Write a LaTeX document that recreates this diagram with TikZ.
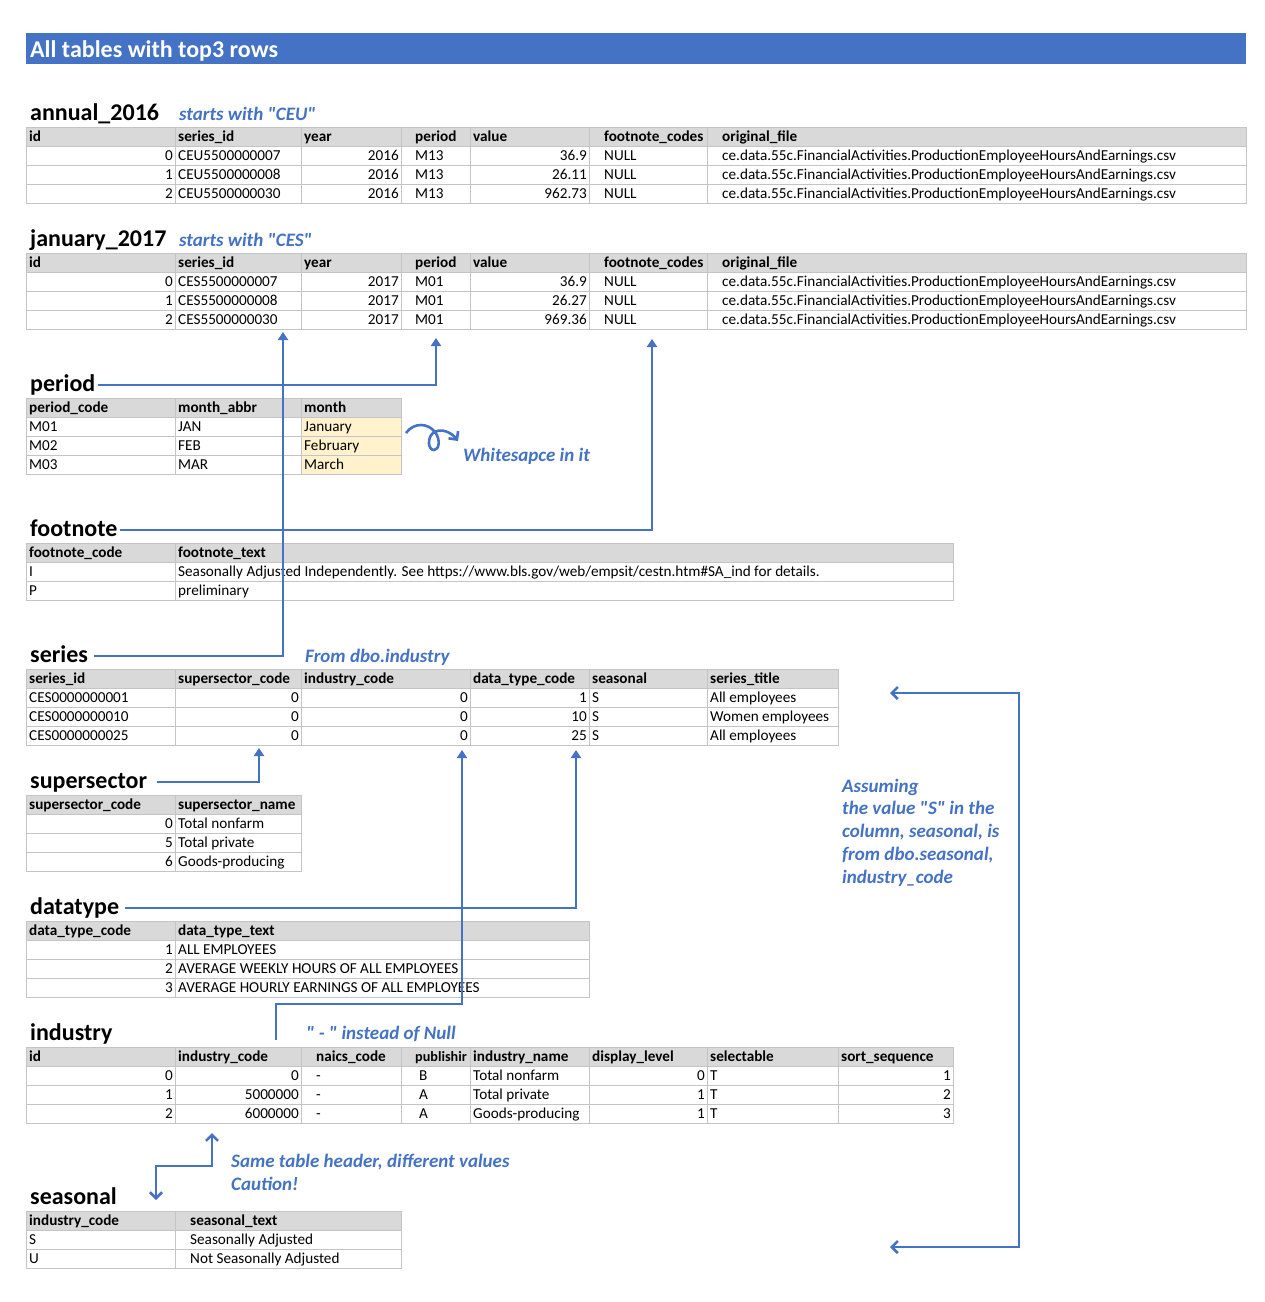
\documentclass[tikz,border=0pt]{standalone}
\usepackage{fontspec}
\setmainfont{Carlito}[Ligatures=TeXOff]
\usepackage{tikz}
\usetikzlibrary{arrows.meta}
\definecolor{xlblue}{HTML}{4472C4}
\definecolor{xlgrid}{HTML}{C4C4C4}
\definecolor{xlhead}{HTML}{D9D9D9}
\definecolor{xlyellow}{HTML}{FFF2CC}

\begin{document}
\begin{tikzpicture}[x=1pt, y=-1pt, every node/.style={inner sep=0pt},
  cell/.style={font=\fontsize{15.2}{17}\selectfont, text height=13pt, text depth=3pt},
  hcell/.style={cell, font=\fontsize{15.2}{17}\selectfont\bfseries},
  ttl/.style={font=\fontsize{24}{28}\selectfont\bfseries, text height=17pt, text depth=5pt, inner xsep=2pt},
  note/.style={font=\fontsize{19}{23}\selectfont\bfseries\itshape, text=xlblue},
  gridline/.style={draw=xlgrid, line width=0.9pt},
  fk/.style={draw=xlblue, line width=2.6pt},
  up/.style={fk, -{Triangle[length=8pt,width=10pt]}},
  barbs/.style={fk, {Straight Barb[length=6pt,width=12pt]}-{Straight Barb[length=6pt,width=12pt]}}]
  \useasboundingbox (0,0) rectangle (1265,1302);
  \fill[white] (0,0) rectangle (1265,1302);

  % title bar
  \fill[xlblue] (26,33) rectangle (1246,64);
  \node[anchor=base west, text=white, font=\fontsize{24}{28}\selectfont\bfseries] (title) at (30,57) {All tables with top3 rows};

  % annual_2016
  \node[ttl, anchor=base west] (annual) at (28,120) {annual\_2016};
  \node[note, anchor=base west] (ceu) at (179,120) {starts with "CEU"};
  \fill[xlhead] (26,127) rectangle (1246,146);
  \foreach \y in {146,165,184} \draw[gridline] (26,\y) -- (1246,\y);
  \foreach \x in {175,301,401,470,589,707} \draw[gridline] (\x,127) -- (\x,203);
  \draw[gridline] (26,127) rectangle (1246,203);
  \foreach \t/\x [count=\c] in {id/29,series\_id/178,year/304,period/415,value/473,footnote\_codes/604,original\_file/722}
    \node[hcell, anchor=west] (a16-h\c) at (\x,136.5) {\t};
  \foreach \i/\s/\v [count=\r] in {0/CEU5500000007/36.9, 1/CEU5500000008/26.11, 2/CEU5500000030/962.73} {
    \node[cell, anchor=east] (a16-\r-1) at (173,136.5+19*\r) {\i};
    \node[cell, anchor=west] (a16-\r-2) at (178,136.5+19*\r) {\s};
    \node[cell, anchor=east] (a16-\r-3) at (399,136.5+19*\r) {2016};
    \node[cell, anchor=west] (a16-\r-4) at (415,136.5+19*\r) {M13};
    \node[cell, anchor=east] (a16-\r-5) at (587,136.5+19*\r) {\v};
    \node[cell, anchor=west] (a16-\r-6) at (604,136.5+19*\r) {NULL};
    \node[cell, anchor=west] (a16-\r-7) at (722,136.5+19*\r) {ce.data.55c.FinancialActivities.ProductionEmployeeHoursAndEarnings.csv};
  }

  % january_2017
  \node[ttl, anchor=base west] (january) at (28,246) {january\_2017};
  \node[note, anchor=base west] (ces) at (179,246) {starts with "CES"};
  \fill[xlhead] (26,253) rectangle (1246,272);
  \foreach \y in {272,291,310} \draw[gridline] (26,\y) -- (1246,\y);
  \foreach \x in {175,301,401,470,589,707} \draw[gridline] (\x,253) -- (\x,329);
  \draw[gridline] (26,253) rectangle (1246,329);
  \foreach \t/\x [count=\c] in {id/29,series\_id/178,year/304,period/415,value/473,footnote\_codes/604,original\_file/722}
    \node[hcell, anchor=west] (j17-h\c) at (\x,262.5) {\t};
  \foreach \i/\s/\v [count=\r] in {0/CES5500000007/36.9, 1/CES5500000008/26.27, 2/CES5500000030/969.36} {
    \node[cell, anchor=east] (j17-\r-1) at (173,262.5+19*\r) {\i};
    \node[cell, anchor=west] (j17-\r-2) at (178,262.5+19*\r) {\s};
    \node[cell, anchor=east] (j17-\r-3) at (399,262.5+19*\r) {2017};
    \node[cell, anchor=west] (j17-\r-4) at (415,262.5+19*\r) {M01};
    \node[cell, anchor=east] (j17-\r-5) at (587,262.5+19*\r) {\v};
    \node[cell, anchor=west] (j17-\r-6) at (604,262.5+19*\r) {NULL};
    \node[cell, anchor=west] (j17-\r-7) at (722,262.5+19*\r) {ce.data.55c.FinancialActivities.ProductionEmployeeHoursAndEarnings.csv};
  }

  % period
  \node[ttl, anchor=base west] (period) at (28,391) {period};
  \fill[xlhead] (26,398) rectangle (401,417);
  \fill[xlyellow] (301,417) rectangle (401,474);
  \foreach \y in {417,436,455} \draw[gridline] (26,\y) -- (401,\y);
  \foreach \x in {175,301} \draw[gridline] (\x,398) -- (\x,474);
  \draw[gridline] (26,398) rectangle (401,474);
  \foreach \t/\x [count=\c] in {period\_code/29,month\_abbr/178,month/304}
    \node[hcell, anchor=west] (per-h\c) at (\x,407.5) {\t};
  \foreach \p/\a/\m [count=\r] in {M01/JAN/January, M02/FEB/February, M03/MAR/March} {
    \node[cell, anchor=west] (per-\r-1) at (29,407.5+19*\r) {\p};
    \node[cell, anchor=west] (per-\r-2) at (178,407.5+19*\r) {\a};
    \node[cell, anchor=west] (per-\r-3) at (304,407.5+19*\r) {\m};
  }
  \node[note, anchor=base west] (wspace) at (463,461) {Whitesapce in it};
  \coordinate (ws0) at (406,433);
  \coordinate (ws1) at (458,441);
  \draw[fk, -{Straight Barb[length=6pt,width=12pt]}] (ws0) .. controls (414,422) and (428,423) .. (435,432)
    .. controls (441,440) and (439,450) .. (434,450) .. controls (428,450) and (427,438) .. (433,433)
    .. controls (441,427) and (452,433) .. (ws1);

  % footnote
  \node[ttl, anchor=base west] (footnote) at (28,536) {footnote};
  \fill[xlhead] (26,543) rectangle (953,562);
  \foreach \y in {562,581} \draw[gridline] (26,\y) -- (953,\y);
  \draw[gridline] (175,543) -- (175,600);
  \draw[gridline] (26,543) rectangle (953,600);
  \node[hcell, anchor=west] (fn-h1) at (29,552.5) {footnote\_code};
  \node[hcell, anchor=west] (fn-h2) at (178,552.5) {footnote\_text};
  \node[cell, anchor=west] (fn-1-1) at (29,571.5) {I};
  \node[cell, anchor=west] (fn-1-2) at (178,571.5) {Seasonally Adjusted Independently. See https://www.bls.gov/web/empsit/cestn.htm\#SA\_ind for details.};
  \node[cell, anchor=west] (fn-2-1) at (29,590.5) {P};
  \node[cell, anchor=west] (fn-2-2) at (178,590.5) {preliminary};

  % series
  \node[ttl, anchor=base west] (series) at (28,662) {series};
  \node[note, anchor=base west] (fromind) at (305,662) {From dbo.industry};
  \fill[xlhead] (26,669) rectangle (838,688);
  \foreach \y in {688,707,726} \draw[gridline] (26,\y) -- (838,\y);
  \foreach \x in {175,301,470,589,707} \draw[gridline] (\x,669) -- (\x,745);
  \draw[gridline] (26,669) rectangle (838,745);
  \foreach \t/\x [count=\c] in {series\_id/29,supersector\_code/178,industry\_code/304,data\_type\_code/473,seasonal/592,series\_title/710}
    \node[hcell, anchor=west] (ser-h\c) at (\x,678.5) {\t};
  \foreach \s/\d/\n [count=\r] in {CES0000000001/1/All employees, CES0000000010/10/Women employees, CES0000000025/25/All employees} {
    \node[cell, anchor=west] (ser-\r-1) at (29,678.5+19*\r) {\s};
    \node[cell, anchor=east] (ser-\r-2) at (299,678.5+19*\r) {0};
    \node[cell, anchor=east] (ser-\r-3) at (468,678.5+19*\r) {0};
    \node[cell, anchor=east] (ser-\r-4) at (587,678.5+19*\r) {\d};
    \node[cell, anchor=west] (ser-\r-5) at (592,678.5+19*\r) {S};
    \node[cell, anchor=west] (ser-\r-6) at (710,678.5+19*\r) {\n};
  }

  % supersector
  \node[ttl, anchor=base west] (supersector) at (28,788) {supersector};
  \fill[xlhead] (26,795) rectangle (301,814);
  \foreach \y in {814,833,852} \draw[gridline] (26,\y) -- (301,\y);
  \draw[gridline] (175,795) -- (175,871);
  \draw[gridline] (26,795) rectangle (301,871);
  \node[hcell, anchor=west] (ss-h1) at (29,804.5) {supersector\_code};
  \node[hcell, anchor=west] (ss-h2) at (178,804.5) {supersector\_name};
  \foreach \c/\n [count=\r] in {0/Total nonfarm, 5/Total private, 6/Goods-producing} {
    \node[cell, anchor=east] (ss-\r-1) at (173,804.5+19*\r) {\c};
    \node[cell, anchor=west] (ss-\r-2) at (178,804.5+19*\r) {\n};
  }

  % datatype
  \node[ttl, anchor=base west] (datatype) at (28,914) {datatype};
  \fill[xlhead] (26,921) rectangle (589,940);
  \foreach \y in {940,959,978} \draw[gridline] (26,\y) -- (589,\y);
  \draw[gridline] (175,921) -- (175,997);
  \draw[gridline] (26,921) rectangle (589,997);
  \node[hcell, anchor=west] (dt-h1) at (29,930.5) {data\_type\_code};
  \node[hcell, anchor=west] (dt-h2) at (178,930.5) {data\_type\_text};
  \foreach \c/\n [count=\r] in {1/ALL EMPLOYEES, 2/AVERAGE WEEKLY HOURS OF ALL EMPLOYEES, 3/AVERAGE HOURLY EARNINGS OF ALL EMPLOYEES} {
    \node[cell, anchor=east] (dt-\r-1) at (173,930.5+19*\r) {\c};
    \node[cell, anchor=west] (dt-\r-2) at (178,930.5+19*\r) {\n};
  }

  % industry
  \node[ttl, anchor=base west] (industry) at (28,1040) {industry};
  \node[note, anchor=base west] (nonull) at (306,1039) {" - " instead of Null};
  \fill[xlhead] (26,1047) rectangle (953,1066);
  \foreach \y in {1066,1085,1104} \draw[gridline] (26,\y) -- (953,\y);
  \foreach \x in {175,301,401,470,589,707,838} \draw[gridline] (\x,1047) -- (\x,1123);
  \draw[gridline] (26,1047) rectangle (953,1123);
  \foreach \t/\x [count=\c] in {id/29,industry\_code/178,naics\_code/316,industry\_name/473,display\_level/592,selectable/710,sort\_sequence/841}
    \node[hcell, anchor=west] (ind-h\c) at (\x,1056.5) {\t};
  \node[hcell, anchor=west, font=\fontsize{14.2}{17}\selectfont\bfseries] (ind-hpub) at (415,1056.5) {publishir};
  \foreach \i/\c/\p/\n/\l [count=\r] in {0/0/B/Total nonfarm/0, 1/5000000/A/Total private/1, 2/6000000/A/Goods-producing/1} {
    \node[cell, anchor=east] (ind-\r-1) at (173,1056.5+19*\r) {\i};
    \node[cell, anchor=east] (ind-\r-2) at (299,1056.5+19*\r) {\c};
    \node[cell, anchor=west] (ind-\r-3) at (316,1056.5+19*\r) {-};
    \node[cell, anchor=west] (ind-\r-4) at (419,1056.5+19*\r) {\p};
    \node[cell, anchor=west] (ind-\r-5) at (473,1056.5+19*\r) {\n};
    \node[cell, anchor=east] (ind-\r-6) at (705,1056.5+19*\r) {\l};
    \node[cell, anchor=west] (ind-\r-7) at (710,1056.5+19*\r) {T};
    \node[cell, anchor=east] (ind-\r-8) at (951,1056.5+19*\r) {\r};
  }

  % seasonal
  \node[ttl, anchor=base west] (seasonal) at (28,1204) {seasonal};
  \fill[xlhead] (26,1211) rectangle (401,1230);
  \foreach \y in {1230,1249} \draw[gridline] (26,\y) -- (401,\y);
  \draw[gridline] (175,1211) -- (175,1268);
  \draw[gridline] (26,1211) rectangle (401,1268);
  \node[hcell, anchor=west] (sea-h1) at (29,1220.5) {industry\_code};
  \node[hcell, anchor=west] (sea-h2) at (190,1220.5) {seasonal\_text};
  \node[cell, anchor=west] (sea-1-1) at (29,1239.5) {S};
  \node[cell, anchor=west] (sea-1-2) at (190,1239.5) {Seasonally Adjusted};
  \node[cell, anchor=west] (sea-2-1) at (29,1258.5) {U};
  \node[cell, anchor=west] (sea-2-2) at (190,1258.5) {Not Seasonally Adjusted};
  \node[note, anchor=base west] (caution1) at (231,1167) {Same table header, different values};
  \node[note, anchor=base west] (caution2) at (231,1190) {Caution!};
  \foreach \t [count=\i] in {Assuming, the value "S" in the, {column, seasonal, is}, {from dbo.seasonal,}, industry\_code}
    \node[note, anchor=base west] (assume\i) at (842,792+22.75*\i-22.75) {\t};

  % key arrows
  \coordinate (tgt-ser) at (283,332);
  \coordinate (tgt-per) at (436,338);
  \coordinate (tgt-fn) at (652,339);
  \coordinate (tgt-ss) at (259,748);
  \coordinate (tgt-ind) at (462,750);
  \coordinate (tgt-dt) at (576,750);
  \coordinate (ind0) at (276,1040);
  \coordinate (ind1) at (462,1004);
  \draw[up] (period.east) -| (tgt-per);
  \draw[up] (footnote.east) -| (tgt-fn);
  \draw[up] ([xshift=4pt]series.east) -| (tgt-ser);
  \draw[up] ([xshift=8pt]supersector.east) -| (tgt-ss);
  \draw[up] ([xshift=4pt]datatype.east) -| (tgt-dt);
  \draw[up] (ind0) |- (ind1) -- (tgt-ind);
  \coordinate (sea-tip) at (156,1200);
  \coordinate (indc-tip) at (212,1133);
  \draw[barbs] (sea-tip) -- ++(0,-34) -| (indc-tip);
  \coordinate (rb-top) at (890,693);
  \coordinate (rb-bot) at (890,1247);
  \draw[barbs] (rb-top) -- ++(129,0) |- (rb-bot);
\end{tikzpicture}
\end{document}
